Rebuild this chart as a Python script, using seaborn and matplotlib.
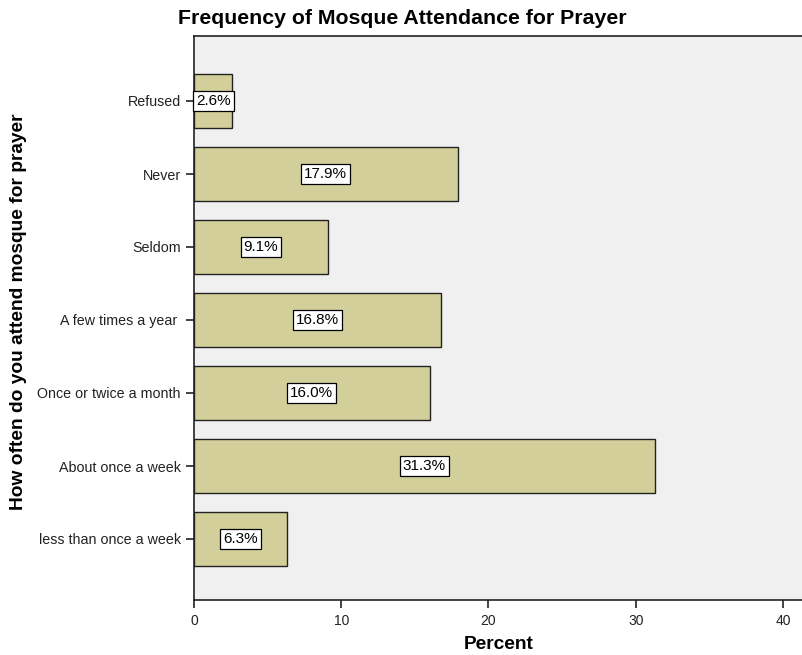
import matplotlib
matplotlib.use("Agg")
import matplotlib.pyplot as plt
import seaborn as sns
import pandas as pd

categories = ["Refused", "Never", "Seldom", "A few times a year ", "Once or twice a month",
              "About once a week", "less than once a week"]
percents = [2.6, 17.9, 9.1, 16.8, 16.0, 31.3, 6.3]
x_ticks = [0, 10, 20, 30, 40]

df = pd.DataFrame({"category": categories, "percent": percents})

sns.set_theme(style="white")
plt.rcParams["font.family"] = ["Liberation Sans", "DejaVu Sans"]

fig = plt.figure(figsize=(8.03, 6.55), dpi=100)
ax = fig.add_axes([194 / 803, 1 - 600 / 655, 1 - 194 / 803, (600 - 36) / 655])
ax.set_facecolor("#f0f0f0")

sns.barplot(data=df, x="percent", y="category", orient="h", order=categories,
            color="#d3cf9b", saturation=1, width=0.75, edgecolor="#222222",
            linewidth=1.0, ax=ax)

# value boxes sit at the middle of each bar
for i, v in enumerate(percents):
    ax.text(v / 2, i, f"{v:.1f}%", ha="center", va="center", fontsize=11,
            color="black",
            bbox=dict(boxstyle="square,pad=0.2", facecolor="white",
                      edgecolor="black", linewidth=0.9))

ax.set_xlim(0, (803 - 194) / 14.725)
ax.set_ylim(6 + 61 / 73, -65 / 73)
ax.set_xticks(x_ticks)
ax.set_xticklabels([str(t) for t in x_ticks])

ax.spines["right"].set_visible(False)
for side in ["left", "bottom", "top"]:
    ax.spines[side].set_visible(True)
    ax.spines[side].set_color("#222222")
    ax.spines[side].set_linewidth(1.2)

ax.tick_params(axis="both", which="both", length=6, width=1.2, color="#222222",
               labelsize=10, labelcolor="#222222")
ax.tick_params(axis="y", pad=3.5, left=True, labelsize=10.3)
ax.tick_params(axis="x", pad=4, bottom=True)

ax.set_xlabel("Percent", fontsize=13.8, fontweight="bold", labelpad=6,
              color="black")
ax.set_ylabel("How often do you attend mosque for prayer", fontsize=13.8,
              fontweight="bold", color="black")
ax.yaxis.set_label_coords(27 / 803, 0.5, transform=fig.transFigure)
ax.yaxis.label.set_position((27 / 803, 1 - 312 / 655))
fig.text(402 / 803, 1 - 18 / 655,
         "Frequency of Mosque Attendance for Prayer", ha="center", va="center",
         fontsize=15.3, fontweight="bold", color="black")

fig.savefig("out.png", dpi=100)
